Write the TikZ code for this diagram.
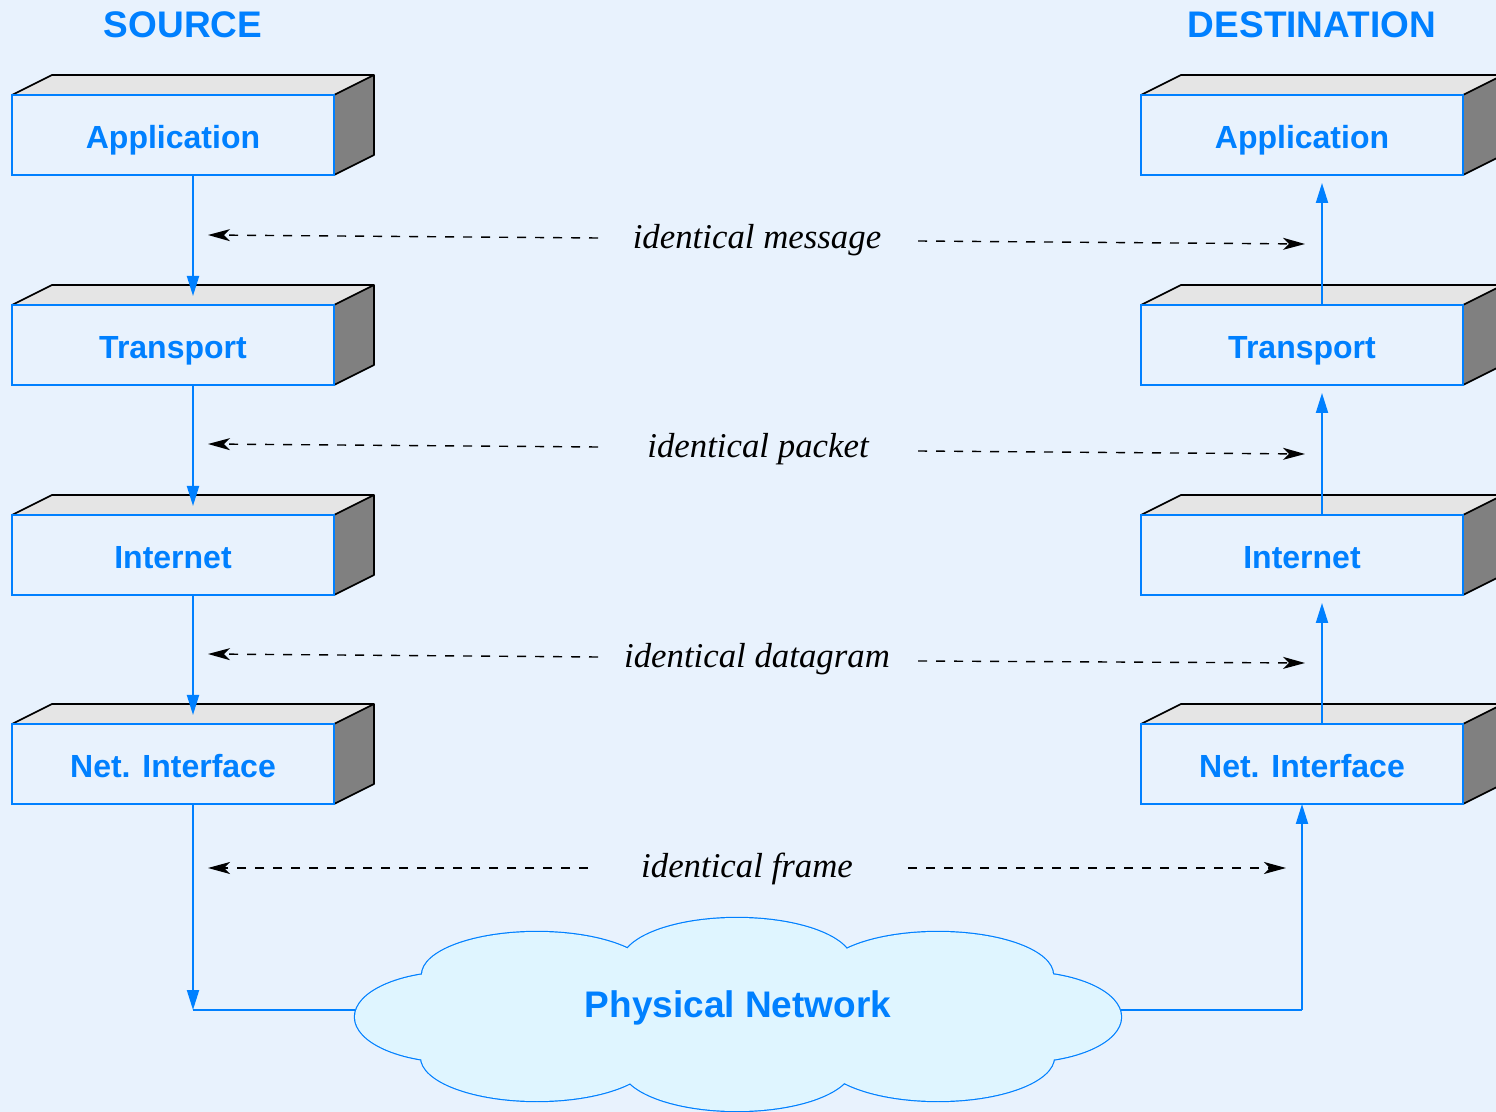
\documentclass[tikz,border=0pt]{standalone}
\usepackage{fontspec}
\setmainfont{Liberation Serif}
\setsansfont{Liberation Sans}
\usetikzlibrary{arrows.meta,backgrounds,shapes.geometric}

\definecolor{bgblue}{RGB}{232,242,253}
\definecolor{layerblue}{RGB}{0,128,255}
\definecolor{topgray}{RGB}{229,229,229}
\definecolor{sidegray}{RGB}{128,128,128}
\definecolor{cloudcyan}{RGB}{223,245,255}

\tikzset{
  layer/.style={rectangle, draw=layerblue, line width=0.9pt, minimum width=161pt,
    minimum height=40pt, inner sep=0pt, outer sep=0pt, text=layerblue,
    text height=14pt, text depth=0pt,
    font=\sffamily\bfseries\fontsize{16}{18}\selectfont},
  host/.style={text=layerblue, font=\sffamily\bfseries\fontsize{18.5}{22}\selectfont},
  wire/.style={draw=layerblue, line width=1pt},
  flow/.style={wire, -{Triangle[length=10pt,width=6pt]}},
  same/.style={draw=black, line width=0.7pt, dash pattern=on 4.5pt off 4.5pt,
    -{Stealth[length=11pt,width=6pt,inset=3pt]}},
  pdu/.style={font=\itshape\fontsize{17.4}{20}\selectfont},
  rim/.style={draw=black, line width=0.85pt, line join=round},
}

\def\puffs{(455,1017) ellipse [x radius=100, y radius=45]
  (537,975) ellipse [x radius=115, y radius=43]
  (737,962) ellipse [x radius=115, y radius=44]
  (938,975) ellipse [x radius=115, y radius=43]
  (1021,1017) ellipse [x radius=100, y radius=45]
  (938,1057) ellipse [x radius=116, y radius=44]
  (737,1067) ellipse [x radius=115, y radius=44]
  (537,1057) ellipse [x radius=116, y radius=44]}

\begin{document}
\begin{tikzpicture}[x=0.5pt, y=-0.5pt]
  \useasboundingbox (0,0) rectangle (1496,1112);

  % hosts
  \node[host] (src) at (183,25)  {SOURCE};
  \node[host] (dst) at (1312,25) {DESTINATION};

  % protocol layers
  \begin{scope}[every node/.style={layer}]
    \node (appL) at (173,135)  {Application};
    \node (trL)  at (173,345)  {Transport};
    \node (inL)  at (173,555)  {Internet};
    \node (niL)  at (173,764)  {Net. Interface};
    \node (appR) at (1302,135) {Application};
    \node (trR)  at (1302,345) {Transport};
    \node (inR)  at (1302,555) {Internet};
    \node (niR)  at (1302,764) {Net. Interface};
  \end{scope}

  \begin{scope}[on background layer]
    \fill[bgblue] (0,0) rectangle (1496,1112);
    \foreach \b in {appL,trL,inL,niL,appR,trR,inR,niR} {
      \fill[topgray] (\b.north west) -- ++(40,-20) -- ++(322,0) -- ++(-40,20) -- cycle;
      \fill[sidegray] (\b.north east) -- ++(40,-20) -- ++(0,80) -- ++(-40,20) -- cycle;
      \draw[rim] (\b.north west) -- ++(40,-20) -- ++(322,0) -- ++(0,80) -- ++(-40,20);
      \draw[rim] (\b.north east) -- ++(40,-20);
    }
  \end{scope}

  % physical network
  \draw[layerblue, line width=1.2pt] \puffs;
  \fill[cloudcyan] \puffs (737,1012) ellipse [x radius=300, y radius=60];
  \node[host, ellipse, minimum width=383pt, minimum height=96pt, inner sep=0pt,
    outer sep=0pt] (net) at (738,1008) {Physical Network};

  % stack paths
  \coordinate (colL) at (193,0);
  \coordinate (colR) at (1322,0);
  \coordinate (cornerL) at (193,1010);
  \coordinate (cornerR) at (1302,1010);

  \draw[flow, shorten >=4.5pt] (appL.south -| colL) -- (trL.north -| colL);
  \draw[flow, shorten >=4.5pt] (trL.south -| colL) -- (inL.north -| colL);
  \draw[flow, shorten >=4.5pt] (inL.south -| colL) -- (niL.north -| colL);
  \draw[flow] (niL.south -| colL) -- (cornerL);
  \draw[wire] (cornerL) -- (cornerL -| net.west);

  \draw[wire] (cornerR -| net.east) -- (cornerR);
  \draw[flow] (cornerR) -- (niR.south);
  \draw[flow, shorten >=4pt] (niR.north -| colR) -- (inR.south -| colR);
  \draw[flow, shorten >=4pt] (inR.north -| colR) -- (trR.south -| colR);
  \draw[flow, shorten >=4pt] (trR.north -| colR) -- (appR.south -| colR);

  % identical units
  \node[pdu] (msg)  at (757,240) {identical message};
  \node[pdu] (pkt)  at (758,449) {identical packet};
  \node[pdu] (dgm)  at (757,659) {identical datagram};
  \node[pdu] (frm)  at (747,869) {identical frame};

  \coordinate (msgA) at (598,238);  \coordinate (msgB) at (208,235);
  \coordinate (msgC) at (918,241);  \coordinate (msgD) at (1305,244);
  \coordinate (pktA) at (598,447);  \coordinate (pktB) at (208,444);
  \coordinate (pktC) at (918,451);  \coordinate (pktD) at (1305,454);
  \coordinate (dgmA) at (598,657);  \coordinate (dgmB) at (208,654);
  \coordinate (dgmC) at (918,661);  \coordinate (dgmD) at (1305,663);
  \coordinate (frmA) at (588,868);  \coordinate (frmB) at (208,868);
  \coordinate (frmC) at (908,868);  \coordinate (frmD) at (1286,868);

  \draw[same] (msgA) -- (msgB);
  \draw[same] (msgC) -- (msgD);
  \draw[same] (pktA) -- (pktB);
  \draw[same] (pktC) -- (pktD);
  \draw[same] (dgmA) -- (dgmB);
  \draw[same] (dgmC) -- (dgmD);
  \draw[same] (frmA) -- (frmB);
  \draw[same] (frmC) -- (frmD);

\end{tikzpicture}
\end{document}
